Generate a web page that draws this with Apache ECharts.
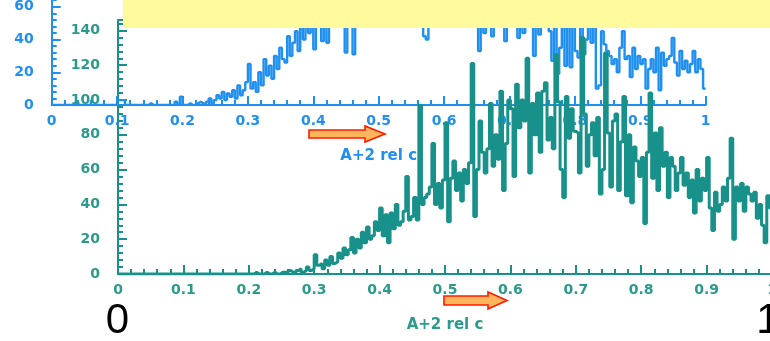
<!DOCTYPE html>
<html>
<head>
<meta charset="utf-8">
<script src="https://cdn.jsdelivr.net/npm/echarts@6/dist/echarts.min.js"></script>
<style>
  html, body { margin: 0; padding: 0; background: #fff; }
  #chart { width: 770px; height: 341px; }
</style>
</head>
<body>
<div id="chart"></div>
<script>
// Histogram bin width along "A+2 rel c"
const binWidth = 0.004;

// Upper (blue) histogram: counts per bin starting at blueFrom
const blueFrom = 0.1;
const blueCounts = [
  3, 3, 3, 0, 0,   0, 0, 0, 0, 0,   0, 0, 1, 0, 0,   0, 0, 0, 0, 0,   0, 0, 2, 0, 5,
  0, 0, 1, 0, 0,   1, 2, 1, 0, 2,   4, 1, 3, 6, 4,   8, 3, 7, 5, 9,   4, 12, 6, 9, 14,
  25, 10, 14, 8, 20,   12, 28, 18, 24, 16,   30, 22, 35, 28, 26,   42, 30, 38, 45, 33,   50, 40, 52, 44, 58,
  34, 60, 50, 39, 55,   38, 65, 58, 70, 62,   75, 66, 32, 72, 80,   31, 68, 75, 85, 70,   78, 82, 74, 88, 80,
  92, 78, 86, 95, 82,   90, 84, 88, 80, 95,   86, 92, 78, 90, 85,   88, 96, 42, 40, 85,   90, 78, 96, 88, 92,
  85, 98, 90, 100, 87,   94, 91, 86, 95, 90,   88, 92, 80, 33, 70,   44, 48, 60, 42, 80,   75, 66, 70, 39, 60,
  72, 55, 62, 41, 62,   44, 65, 48, 58, 30,   58, 43, 62, 70, 50,   45, 27, 55, 19, 35,   52, 24, 60, 23, 48,
  33, 29, 55, 31, 40,   48, 38, 52, 10, 12,   45, 37, 33, 30, 25,   28, 20, 35, 45, 28,   30, 17, 35, 22, 30,
  25, 28, 10, 22, 28,   20, 35, 9, 32, 24,   28, 30, 41, 26, 18,   33, 22, 27, 20, 25,   33, 20, 28, 22, 10
];

// Lower (teal) histogram: counts per bin starting at greenFrom
const greenFrom = 0.2;
const greenCounts = [
  0, 0, 1, 0, 0,   0, 1, 0, 0, 1,   0, 0, 1, 1, 0,   2, 1, 0, 2, 3,   1, 2, 4, 2, 3,
  11, 5, 6, 3, 8,   5, 10, 6, 7, 12,   9, 15, 11, 14, 21,   12, 20, 15, 24, 18,   27, 20, 22, 30, 25,
  38, 22, 34, 18, 35,   26, 40, 28, 30, 36,   56, 31, 33, 44, 31,   97, 40, 44, 46, 50,   75, 40, 52, 38, 54,
  87, 30, 55, 65, 48,   58, 42, 60, 52, 64,   121, 33, 60, 88, 70,   58, 72, 98, 62, 80,   66, 105, 48, 75, 100,
  95, 56, 109, 84, 100,   88, 124, 58, 98, 80,   104, 70, 105, 110, 77,   90, 72, 126, 99, 60,   44, 102, 78, 95, 82,
  81, 58, 136, 92, 62,   80, 87, 68, 90, 46,   60, 127, 81, 50, 88,   92, 48, 76, 102, 45,   80, 41, 73, 65, 56,
  67, 29, 70, 104, 55,   81, 48, 84, 62, 70,   44, 67, 62, 48, 58,   67, 51, 58, 44, 54,   35, 60, 42, 55, 48,
  67, 38, 25, 47, 36,   40, 50, 42, 55, 78,   20, 50, 42, 52, 36,   50, 46, 42, 47, 32,   40, 28, 18, 45, 38
];

const axisTitle = 'A+2 rel c';
const xTicks = { min: 0, max: 1, interval: 0.1 };
const blueY = { min: 0, max: 80, interval: 20 };
const greenY = { min: 0, max: 146, interval: 20 };

const BLUE = '#1f8ff0';
const TEAL = '#17918a';
const TEAL_TEXT = '#2a9a8c';
const FONT = 'DejaVu Sans';

// Turn bin counts into step-line points (left edge of each bin, closing at 1)
function toSteps(from, counts) {
  const pts = [[0, 0]];
  counts.forEach((c, i) => {
    pts.push([+(from + i * binWidth).toFixed(4), c]);
  });
  pts.push([1, counts[counts.length - 1]]);
  return pts;
}

function xAxisOf(grid, color, textColor) {
  return {
    gridIndex: grid, type: 'value',
    min: xTicks.min, max: xTicks.max, interval: xTicks.interval,
    axisLine: { show: true, onZero: false, lineStyle: { color: color, width: 2 } },
    axisTick: { show: true, inside: true, length: 9, lineStyle: { color: color, width: 2 } },
    minorTick: { show: true, splitNumber: 5, length: 5, lineStyle: { color: color, width: 2 } },
    splitLine: { show: false },
    axisLabel: { color: textColor, fontSize: 14, fontWeight: 'bold', fontFamily: FONT, margin: 9 },
    name: axisTitle, nameLocation: 'middle', nameGap: 44,
    nameTextStyle: { color: textColor, fontSize: 15, fontWeight: 'bold', fontFamily: FONT }
  };
}

function yAxisOf(grid, range, color, textColor) {
  return {
    gridIndex: grid, type: 'value',
    min: range.min, max: range.max, interval: range.interval,
    axisLine: { show: true, onZero: false, lineStyle: { color: color, width: 2 } },
    axisTick: { show: true, inside: true, length: 9, lineStyle: { color: color, width: 2 } },
    minorTick: { show: true, splitNumber: 5, length: 5, lineStyle: { color: color, width: 2 } },
    splitLine: { show: false },
    axisLabel: { color: textColor, fontSize: 14, fontWeight: 'bold', fontFamily: FONT, margin: 18, showMaxLabel: false }
  };
}

function arrow(x0, xHead, xTip, yMid, shaftHalf, headHalf) {
  return {
    type: 'polygon', z: 120,
    shape: {
      points: [
        [x0, yMid - shaftHalf], [xHead, yMid - shaftHalf], [xHead, yMid - headHalf],
        [xTip, yMid], [xHead, yMid + headHalf], [xHead, yMid + shaftHalf], [x0, yMid + shaftHalf]
      ]
    },
    style: { fill: '#fdb65c', stroke: '#ff1a00', lineWidth: 1.6 }
  };
}

const chart = echarts.init(document.getElementById('chart'), null, { renderer: 'canvas' });
chart.setOption({
  animation: false,
  backgroundColor: '#ffffff',
  grid: [
    { left: 51.7, right: 64.3, top: -26, bottom: 236, outerBoundsMode: 'none' },
    { left: 118, right: -2, top: 20, bottom: 67, outerBoundsMode: 'none' }
  ],
  xAxis: [xAxisOf(0, BLUE, BLUE), xAxisOf(1, TEAL, TEAL_TEXT)],
  yAxis: [yAxisOf(0, blueY, BLUE, BLUE), yAxisOf(1, greenY, TEAL, TEAL_TEXT)],
  series: [
    {
      type: 'line', xAxisIndex: 0, yAxisIndex: 0, step: 'end',
      symbol: 'none', z: 2,
      lineStyle: { color: BLUE, width: 2.4 },
      data: toSteps(blueFrom, blueCounts)
    },
    {
      type: 'line', xAxisIndex: 1, yAxisIndex: 1, step: 'end',
      symbol: 'none', z: 6,
      lineStyle: { color: TEAL, width: 3 },
      data: toSteps(greenFrom, greenCounts)
    }
  ],
  graphic: [
    { type: 'rect', z: 100, shape: { x: 123, y: 0, width: 647, height: 28 }, style: { fill: '#fffb9c' } },
    arrow(309, 365, 385, 134, 4, 8),
    arrow(444, 488, 507, 300.5, 4.5, 8.5),
    { type: 'text', z: 120, style: { text: '0', x: 117.5, y: 321.5, font: '42px "Liberation Sans"', fill: '#000', align: 'center', verticalAlign: 'middle' } },
    { type: 'text', z: 120, style: { text: '1', x: 768, y: 321.5, font: '42px "Liberation Sans"', fill: '#000', align: 'center', verticalAlign: 'middle' } }
  ]
});
</script>
</body>
</html>
